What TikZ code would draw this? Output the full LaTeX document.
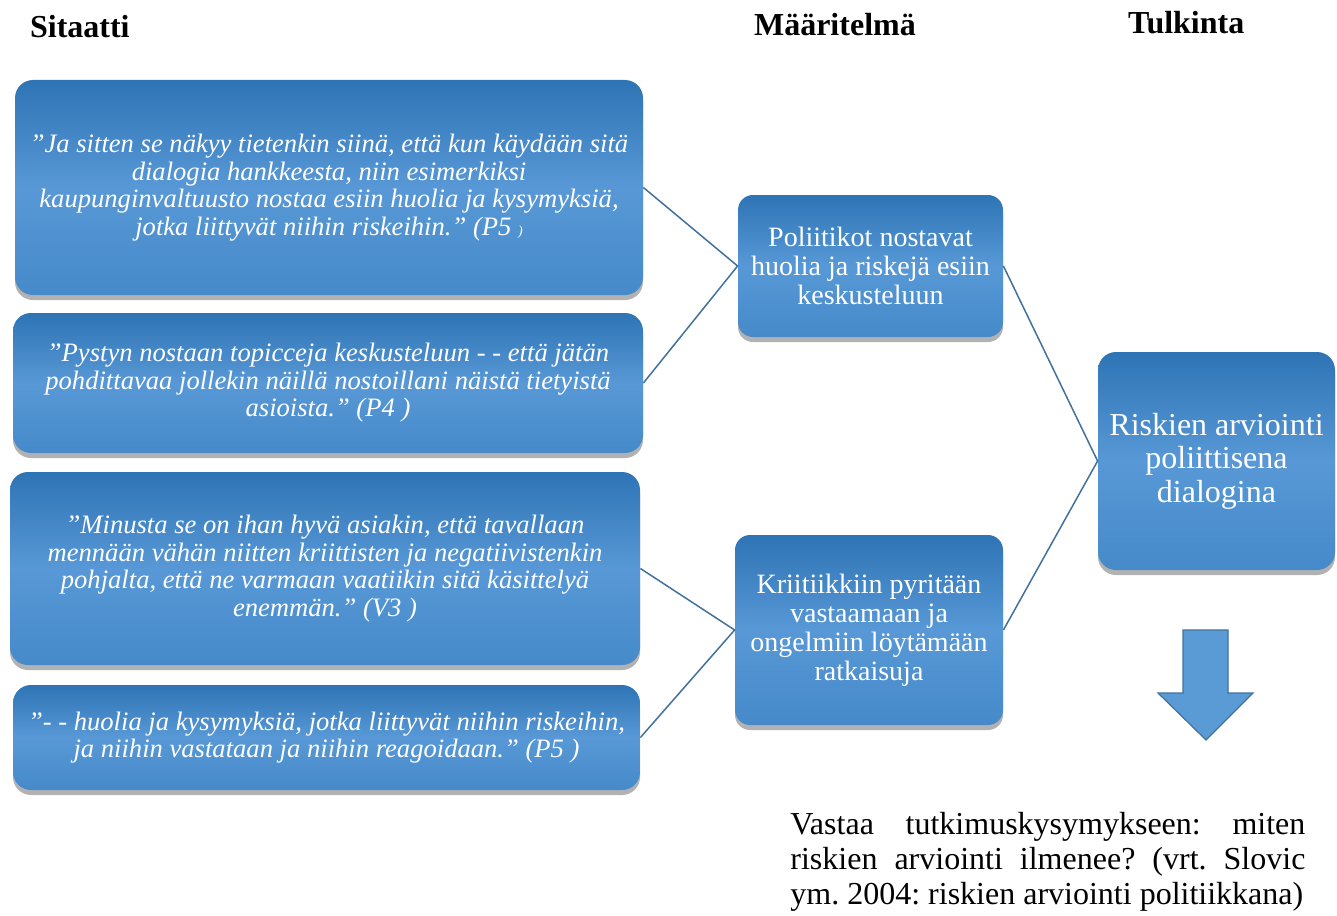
\documentclass[tikz,border=0pt]{standalone}
\usepackage{fontspec}
\setmainfont{Liberation Serif}
\usetikzlibrary{shadows}

\definecolor{boxtop}{RGB}{46,116,181}
\definecolor{boxmid}{RGB}{88,152,214}
\definecolor{boxbot}{RGB}{70,138,202}
\definecolor{linkblue}{RGB}{65,113,156}
\definecolor{arrowfill}{RGB}{91,155,213}

\tikzset{
  card/.style={rounded corners=9pt, top color=boxtop, bottom color=boxbot,
    middle color=boxmid, text=white, align=center, inner sep=0pt,
    drop shadow={shadow xshift=0pt, shadow yshift=-2.5pt, opacity=0.3, fill=black}},
  quote/.style={card, font=\fontsize{13.3}{13.75}\selectfont\itshape},
  defin/.style={card, rounded corners=7.5pt, font=\fontsize{14}{14.5}\selectfont},
  interp/.style={card, font=\fontsize{16}{16.75}\selectfont},
  head/.style={anchor=base west, font=\fontsize{16}{18}\selectfont\bfseries},
  link/.style={linkblue, line width=0.75pt}
}

\begin{document}
\frenchspacing
\begin{tikzpicture}[x=0.5pt,y=-0.5pt]
  \useasboundingbox (0,0) rectangle (1337,915);

  % Column headings
  \node[head] (hquote) at (23,38) {Sitaatti};
  \node[head] (hdef) at (747,36) {Määritelmä};
  \node[head] (hint) at (1121,34) {Tulkinta};

  % Quotes
  \node[quote, minimum width=314pt, minimum height=107.5pt] (q1) at (329,187.5)
    {”Ja sitten se näkyy tietenkin siinä, että kun käydään sitä\\
     dialogia hankkeesta, niin esimerkiksi\\
     kaupunginvaltuusto nostaa esiin huolia ja kysymyksiä,\\
     jotka liittyvät niihin riskeihin.” (P5 {\scriptsize)}};
  \node[quote, minimum width=315pt, minimum height=70pt] (q2) at (328,383)
    {”Pystyn nostaan topicceja keskusteluun - - että jätän\\
     pohdittavaa jollekin näillä nostoillani näistä tietyistä\\
     asioista.” (P4 )};
  \node[quote, minimum width=315pt, minimum height=96.5pt] (q3) at (325,568.5)
    {”Minusta se on ihan hyvä asiakin, että tavallaan\\
     mennään vähän niitten kriittisten ja negatiivistenkin\\
     pohjalta, että ne varmaan vaatiikin sitä käsittelyä\\
     enemmän.” (V3 )};
  \node[quote, minimum width=313.5pt, minimum height=52.5pt] (q4) at (326.5,737.5)
    {"- - huolia ja kysymyksiä, jotka liittyvät niihin riskeihin,\\
     ja niihin vastataan ja niihin reagoidaan.” (P5 )};

  % Definitions
  \node[defin, minimum width=132.5pt, minimum height=71pt] (d1) at (870.5,266)
    {Poliitikot nostavat\\ huolia ja riskejä esiin\\ keskusteluun};
  \node[defin, minimum width=134pt, minimum height=95pt] (d2) at (869,630)
    {Kriitiikkiin pyritään\\ vastaamaan ja\\ ongelmiin löytämään\\ ratkaisuja};

  % Interpretation
  \node[interp, minimum width=118.5pt, minimum height=109pt] (t) at (1216.5,461)
    {Riskien arviointi\\ poliittisena\\ dialogina};

  % Connectors
  \draw[link] (q1.east) -- (d1.west) -- (q2.east);
  \draw[link] (q3.east) -- (d2.west) -- (q4.east);
  \draw[link] (d1.east) -- (t.west) -- (d2.east);

  % Down arrow
  \draw[linkblue, fill=arrowfill, line width=0.6pt]
    (1183,630) -- (1228,630) -- (1228,693) -- (1253,693) -- (1206,740)
    -- (1158,693) -- (1183,693) -- cycle;

  % Research question
  \node[anchor=north west, inner sep=0pt, text width=257.5pt, align=justify,
        font=\fontsize{16}{17.5}\selectfont] (answer) at (790,812)
    {\parfillskip=0pt Vastaa tutkimuskysymykseen: miten\linebreak
     riskien arviointi ilmenee? (vrt. Slovic\linebreak
     ym. 2004: riskien arviointi politiikkana)};
\end{tikzpicture}
\end{document}
